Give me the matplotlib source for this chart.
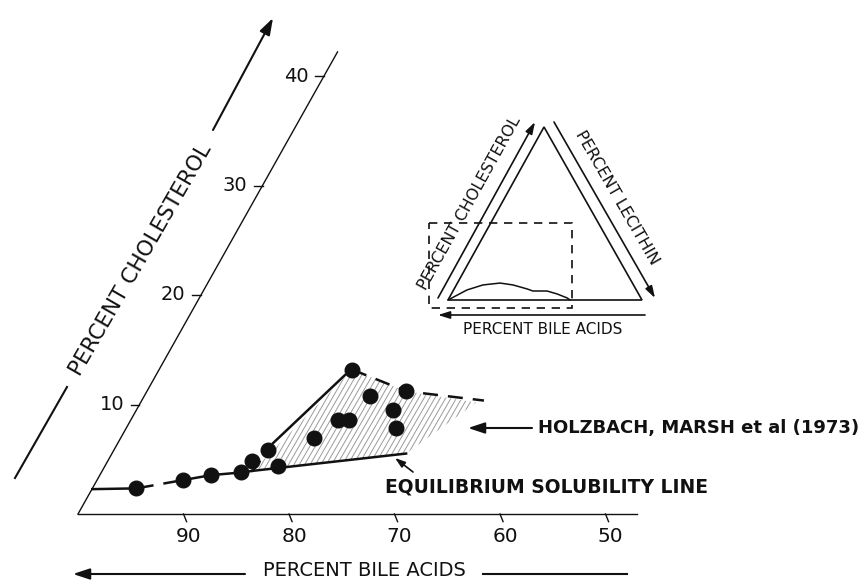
import numpy as np
import matplotlib
matplotlib.use("Agg")
import matplotlib.pyplot as plt
from matplotlib.transforms import Affine2D
from matplotlib.patches import Polygon, Rectangle

plt.rcParams['font.family'] = ['DejaVu Sans']

# measured points: percent bile acids, percent cholesterol
bile = [93.5, 88.8, 85.9, 83.0, 81.5, 79.5, 79.2, 74.7, 71.8, 70.7, 68.5, 67.8, 64.2, 66.2, 66.6]
chol = [2.34, 3.09, 3.55, 3.79, 4.82, 5.88, 4.36, 6.94, 8.61, 8.61, 13.18, 10.75, 11.21, 9.52, 7.85]

# equilibrium solubility line
eq_solid_b = [97.7, 93.5]
eq_solid_c = [2.27, 2.34]
eq_dash_b = [93.5, 88.8, 85.9, 83.0, 81.8]
eq_dash_c = [2.34, 3.09, 3.55, 3.79, 3.94]
eq_upper_b = [81.8, 66.6]
eq_upper_c = [3.94, 5.52]

# Holzbach, Marsh zone boundaries
zone_dash1_b = [81.8, 79.5]
zone_dash1_c = [3.94, 5.88]
zone_solid_b = [78.8, 69.4]
zone_solid_c = [6.48, 12.69]
zone_dash2_b = [68.5, 64.2, 57.2]
zone_dash2_c = [13.18, 11.21, 10.36]
hatch_b = [81.8, 68.5, 64.2, 58.0, 66.6]
hatch_c = [3.94, 13.18, 11.21, 10.18, 5.52]

bile_ticks = [90, 80, 70, 60, 50]
chol_ticks = [10, 20, 30, 40]

# inset ternary diagram: percent lecithin, percent cholesterol
ins_l = [0, 6.9, 13.7, 22.0, 29.2, 37.6, 41.2, 48.5, 54.5, 60.8, 62.9]
ins_c = [0, 5.8, 8.7, 9.8, 8.7, 6.4, 5.2, 5.2, 3.5, 1.2, 0]

ink = '#111111'
fig = plt.figure(figsize=(8.65, 5.84), dpi=100)
ax = fig.add_axes([0, 0, 1, 1])
ax.set_xlim(0, 865)
ax.set_ylim(584, 0)
ax.axis('off')

tern = Affine2D.from_values(-10.55, 0, -4.4, -10.95, 1133, 514) + ax.transData
ins = Affine2D.from_values(1.94, 0, 0.96, -1.73, 448, 300) + ax.transData

# axes of the main diagram
ax.plot([100, 47], [0, 0], color=ink, lw=1.0, transform=tern)
ax.plot([100, 57.8], [0, 42.2], color=ink, lw=1.0, transform=tern)
for b in bile_ticks:
    ax.plot([b, b], [0, -0.7], color=ink, lw=1.0, transform=tern)
    ax.text(b + 0.4, -2.1, str(b), transform=tern, ha='center', va='center',
            fontsize=14.5, color=ink)
for c in chol_ticks:
    ax.plot([100 - c, 100 - c + 0.85], [c, c], color=ink, lw=1.0, transform=tern)
    ax.text(100 - c + 1.45, c, str(c), transform=tern, ha='right', va='center',
            fontsize=14, color=ink)

# hatched zone (thin steep lines clipped to the zone)
zone = Polygon(list(zip(hatch_b, hatch_c)), closed=True, fill=False, lw=0,
               transform=tern)
ax.add_patch(zone)
for x0 in np.arange(150, 520, 5.4):
    ln, = ax.plot([x0, x0 + 75], [480, 350], color='#9a9a9a', lw=0.7)
    ln.set_clip_path(zone)

ax.plot(eq_solid_b, eq_solid_c, color=ink, lw=1.8, transform=tern)
ax.plot(eq_dash_b, eq_dash_c, color=ink, lw=1.8, dashes=(7, 4), transform=tern)
ax.plot(eq_upper_b, eq_upper_c, color=ink, lw=1.8, transform=tern)
ax.plot(zone_dash1_b, zone_dash1_c, color=ink, lw=1.8, dashes=(5, 4), transform=tern)
ax.plot(zone_solid_b, zone_solid_c, color=ink, lw=1.8, transform=tern)
ax.plot(zone_dash2_b, zone_dash2_c, color=ink, lw=1.8, dashes=(6, 4), transform=tern)
ax.plot(bile, chol, 'o', ms=10.5, color=ink, transform=tern)

# axis titles with arrows
arr = dict(arrowstyle='-|>,head_length=1.0,head_width=0.33', color=ink, lw=1.5,
           shrinkA=0, shrinkB=0)
ax.annotate('', xy=(73, 574), xytext=(245, 574), arrowprops=arr)
ax.plot([483, 627], [574, 574], color=ink, lw=1.5)
ax.text(364, 571, 'PERCENT BILE ACIDS', ha='center', va='center',
        fontsize=14, color=ink)
ax.plot([15, 67], [478, 387], color=ink, lw=1.5)
ax.annotate('', xy=(273, 18), xytext=(213, 130), arrowprops=arr)
ax.text(141, 260, 'PERCENT CHOLESTEROL', ha='center', va='center', rotation=60,
        rotation_mode='anchor', fontsize=15.5, color=ink)

# annotations
ax.annotate('', xy=(468, 428), xytext=(532, 428), arrowprops=arr)
ax.text(538, 428, 'HOLZBACH, MARSH et al (1973)', ha='left', va='center',
        fontsize=13, fontweight='bold', color=ink)
ax.annotate('', xy=(395, 458), xytext=(413, 472),
            arrowprops=dict(arrowstyle='-|>,head_length=0.6,head_width=0.2',
                            color=ink, lw=1.2, shrinkA=0, shrinkB=0))
ax.text(385, 487, 'EQUILIBRIUM SOLUBILITY LINE', ha='left', va='center',
        fontsize=13.5, fontweight='bold', color=ink)

# inset triangle
ax.add_patch(Polygon([(0, 0), (100, 0), (0, 100)], closed=True, fill=False,
                     edgecolor=ink, lw=1.2, transform=ins))
ax.plot(ins_l, ins_c, color=ink, lw=1.1, transform=ins)
ax.add_patch(Rectangle((429, 223), 143, 85, fill=False, edgecolor=ink, lw=1.2,
                       linestyle=(0, (5, 4))))
arr2 = dict(arrowstyle='-|>,head_length=0.7,head_width=0.22', color=ink, lw=1.2,
            shrinkA=0, shrinkB=0)
ax.annotate('', xy=(535, 122), xytext=(438, 298), arrowprops=arr2)
ax.annotate('', xy=(655, 298), xytext=(554, 122), arrowprops=arr2)
ax.annotate('', xy=(438, 315), xytext=(645, 315), arrowprops=arr2)
ax.text(543, 330, 'PERCENT BILE ACIDS', ha='center', va='center', fontsize=11, color=ink)
ax.text(470, 203, 'PERCENT CHOLESTEROL', ha='center', va='center', rotation=61,
        rotation_mode='anchor', fontsize=11.5, color=ink)
ax.text(617, 198, 'PERCENT LECITHIN', ha='center', va='center', rotation=-60,
        rotation_mode='anchor', fontsize=11.5, color=ink)

fig.savefig('out.png', dpi=100, facecolor='white')
